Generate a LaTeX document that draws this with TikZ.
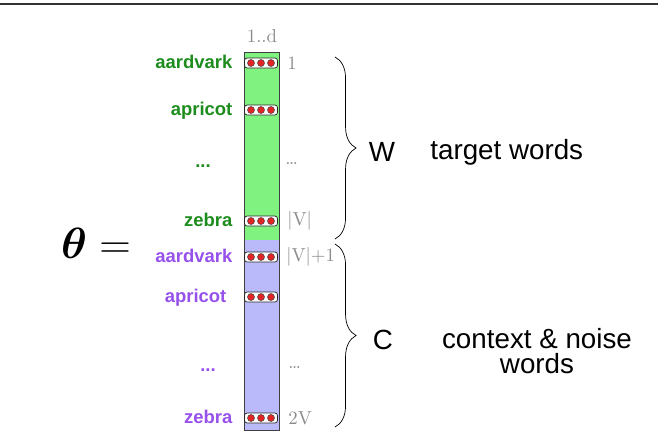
\documentclass[tikz,border=0pt]{standalone}
\usepackage{fontspec}
\usepackage{bm}
\setsansfont{Liberation Sans}
\usetikzlibrary{decorations.pathreplacing}

\definecolor{wfill}{RGB}{128,242,128}
\definecolor{cfill}{RGB}{186,186,250}
\definecolor{wtext}{RGB}{28,140,28}
\definecolor{ctext}{RGB}{150,80,235}
\definecolor{dotred}{RGB}{226,36,36}

\tikzset{
	word/.style={anchor=base east, inner sep=0pt, font=\sffamily\bfseries\fontsize{10.5}{12}\selectfont},
	idx/.style={anchor=west, inner sep=0pt, text=black!45, font=\fontsize{10.7}{12}\selectfont},
	vec/.style={draw=black!85, fill=white, rounded corners=1.5pt, minimum width=0.66cm, minimum height=0.2cm, inner sep=0pt},
	vdot/.style={fill=dotred, draw=black!70, line width=0.3pt},
	brace/.style={decorate, decoration={brace, amplitude=12pt}, thin},
	big/.style={font=\sffamily\fontsize{15.8}{14.5}\selectfont, inner sep=0pt}
}

\begin{document}
\begin{tikzpicture}[x=0.02cm, y=-0.02cm]
	\useasboundingbox (0,0) rectangle (658,436);
	\draw[black!80, line width=1.1pt] (0,4) -- (658,4);

	% the embedding matrix
	\fill[wfill] (244,52) rectangle (279,240);
	\fill[cfill] (244,240) rectangle (279,430);
	\draw[black!75] (244,52) rectangle (279,430);
	\node[idx, anchor=center] (dim) at (262,36) {1..d};

	% word vectors
	\foreach \n/\y/\w/\c/\g in {wa/63/aardvark/wtext/0, wb/110/apricot/wtext/0, wz/221/zebra/wtext/0,
		ca/257/aardvark/ctext/0, cb/297/apricot/ctext/6, cz/418/zebra/ctext/0} {
		\node[vec] (\n) at (261,\y) {};
		\foreach \dx in {-10,0,10}
			\filldraw[vdot] ([xshift=\dx*0.02cm]\n.center) circle (2pt);
		\node[word, text=\c] (\n-w) at ([xshift=-11.5*0.02cm-\g*0.02cm, yshift=-5*0.02cm]\n.west) {\w};
	}
	\node[word, anchor=base, text=wtext] (wdots) at (203,167) {...};
	\node[word, anchor=base, text=ctext] (cdots) at (208,371) {...};

	% row indices
	\node[idx] (i1) at (287,63) {1};
	\node[idx] (i2) at (285,164) {\dots};
	\node[idx] (i3) at (287,221) {|V|};
	\node[idx] (i4) at (286,257) {|V|+1};
	\node[idx] (i5) at (288,367) {\dots};
	\node[idx] (i6) at (288,418) {2V};

	% braces
	\coordinate (wtop) at (335,57);
	\coordinate (wbot) at (335,239);
	\coordinate (ctop) at (335,244);
	\coordinate (cbot) at (335,427);
	\draw[brace] (wtop) -- (wbot);
	\draw[brace] (ctop) -- (cbot);

	\node[big] (W) at (382,152) {W};
	\node[big, anchor=west] (wlab) at (430,152) {target words};
	\node[big] (C) at (383,340) {C};
	\node[big, align=center, anchor=north] (clab) at (537,328) {context \& noise\\words};

	\node[font=\fontsize{26}{30}\selectfont, inner sep=0pt] (theta) at (96,243) {$\bm{\theta} =$};
\end{tikzpicture}
\end{document}
